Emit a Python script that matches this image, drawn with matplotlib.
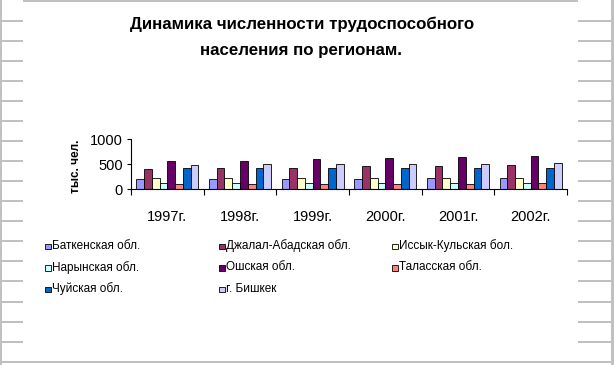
import matplotlib
matplotlib.use("Agg")
import matplotlib.pyplot as plt
from matplotlib.patches import Rectangle
import numpy as np

plt.rcParams['font.family'] = ['Liberation Sans', 'DejaVu Sans']

# Data ----
years = ["1997г.", "1998г.", "1999г.", "2000г.", "2001г.", "2002г."]
regions = ["Баткенская обл.", "Джалал-Абадская обл.", "Иссык-Кульская бол.",
           "Нарынская обл.", "Ошская обл.", "Таласская обл.",
           "Чуйская обл.", "г. Бишкек"]
batken = [200, 200, 200, 200, 220, 220]
jalalabad = [400, 420, 420, 460, 460, 480]
issykkul = [220, 220, 220, 220, 220, 220]
naryn = [120, 120, 120, 120, 120, 130]
osh = [565, 565, 600, 620, 640, 660]
talas = [100, 100, 100, 100, 100, 120]
chui = [420, 420, 420, 420, 420, 420]
bishkek = [480, 500, 500, 500, 500, 520]
series = [batken, jalalabad, issykkul, naryn, osh, talas, chui, bishkek]
colors = ["#9999FF", "#993366", "#FFFFCC", "#CCFFFF",
          "#660066", "#FF8080", "#0066CC", "#CCCCFF"]

W, H = 614, 365
fig = plt.figure(figsize=(W / 100, H / 100), dpi=100)
fig.patch.set_facecolor("white")

# background: spreadsheet margins, in pixel coords
bg = fig.add_axes([0, 0, 1, 1])
bg.set_xlim(0, W)
bg.set_ylim(H, 0)
bg.axis("off")
grey = "#C0C0C0"
bg.add_patch(Rectangle((0, 0), 2, H, color=grey, lw=0))
bg.add_patch(Rectangle((610.5, 0), 3, H, color=grey, lw=0))
bg.add_patch(Rectangle((23, 0), 555, 1.5, color=grey, lw=0))
for k in range(18):
    y = 20.7 + 20.06 * k
    if k == 17:
        bg.add_patch(Rectangle((0, y - 1), W, 2, color=grey, lw=0))
    else:
        bg.add_patch(Rectangle((0, y - 1), 23, 2, color=grey, lw=0))
        bg.add_patch(Rectangle((578, y - 1), 33, 2, color=grey, lw=0))

# title
bg.text(302, 24, "Динамика численности трудоспособного", ha="center",
        va="center", fontsize=12.2, fontweight="bold")
bg.text(301, 50, "населения по регионам.", ha="center",
        va="center", fontsize=12.2, fontweight="bold")

# y label
bg.text(76, 166, "тыс. чел.", rotation=90, ha="center", va="center",
        fontsize=8.5, fontweight="bold")

# legend drawn manually, row-major 3 columns
col_x = [45, 219, 392]
row_y = [246, 267.5, 289]
for j, (name, c) in enumerate(zip(regions, colors)):
    r, cc = divmod(j, 3)
    x0, y0 = col_x[cc], row_y[r]
    bg.add_patch(Rectangle((x0, y0 - 2.5), 5.5, 5.5, facecolor=c,
                           edgecolor="black", lw=0.6))
    bg.text(x0 + 7, y0, name, ha="left", va="center", fontsize=8.5)

# main chart
ax = fig.add_axes([131 / W, 1 - 189.3 / H, 436 / W, 50 / H])
ax.patch.set_alpha(0)
x = np.arange(len(years))
w = 0.107
for j, (vals, c) in enumerate(zip(series, colors)):
    ax.bar(x + (j - 3.5) * w, vals, width=w, color=c,
           edgecolor="black", linewidth=0.6)

ax.set_xlim(-0.5, len(years) - 0.5)
ax.set_ylim(0, 1000)
ax.set_yticks([0, 500, 1000])
ax.tick_params(axis="y", length=3, width=0.8, pad=3, labelsize=10.5)
ax.set_xticks(x)
ax.set_xticklabels(years, fontsize=10.5)
ax.tick_params(axis="x", which="major", length=0, pad=15)
ax.set_xticks(np.arange(-0.5, len(years)), minor=True)
ax.tick_params(axis="x", which="minor", length=4, width=0.8)
for s in ["top", "right"]:
    ax.spines[s].set_visible(False)
for s in ["left", "bottom"]:
    ax.spines[s].set_linewidth(0.8)

fig.savefig("out.png", dpi=100)
